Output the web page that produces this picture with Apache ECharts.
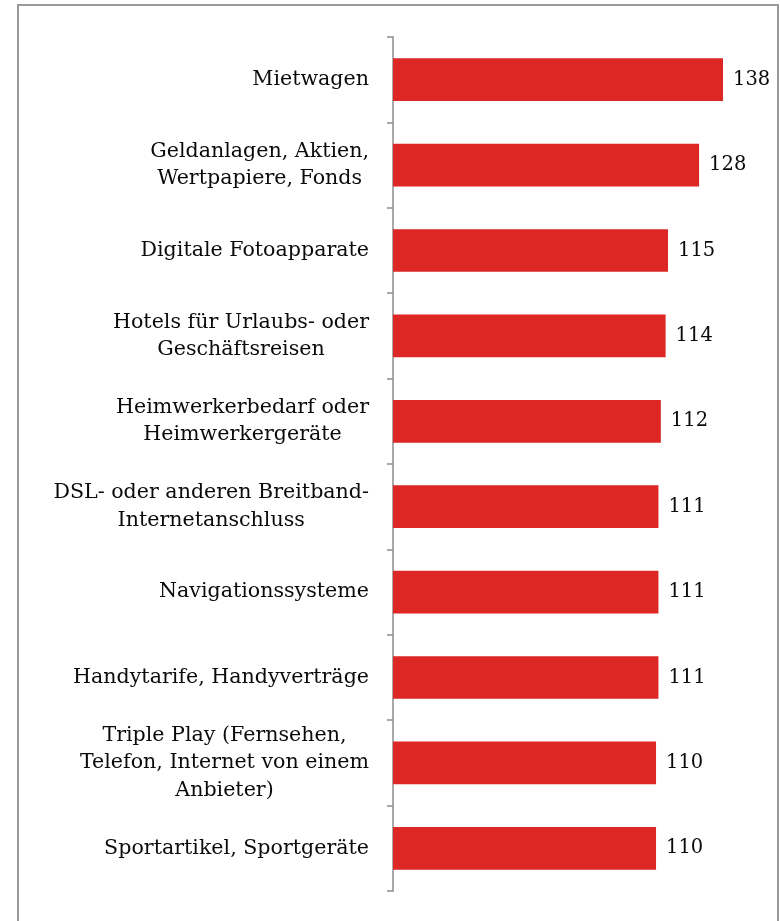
<!DOCTYPE html>
<html>
<head>
<meta charset="utf-8">
<script src="https://cdn.jsdelivr.net/npm/echarts@6/dist/echarts.min.js"></script>
<style>
html,body{margin:0;padding:0;background:#fff;overflow:hidden;}
#chart{position:absolute;left:0;top:0;width:780px;height:921px;}
#frame{position:absolute;left:17px;top:4px;width:758px;height:1000px;border:2px solid #9a9a9a;pointer-events:none;box-sizing:content-box;}
</style>
</head>
<body>
<div id="chart"></div>
<div id="frame"></div>
<script>
const categories = [
  'Mietwagen',
  'Geldanlagen, Aktien,\nWertpapiere, Fonds',
  'Digitale Fotoapparate',
  'Hotels für Urlaubs- oder\nGeschäftsreisen',
  'Heimwerkerbedarf oder\nHeimwerkergeräte',
  'DSL- oder anderen Breitband-\nInternetanschluss',
  'Navigationssysteme',
  'Handytarife, Handyverträge',
  'Triple Play (Fernsehen,\nTelefon, Internet von einem\nAnbieter)',
  'Sportartikel, Sportgeräte'
];
const values = [138, 128, 115, 114, 112, 111, 111, 111, 110, 110];

const FONT = '"DejaVu Serif", Georgia, serif';
const chart = echarts.init(document.getElementById('chart'), null, {renderer: 'canvas'});
chart.setOption({
  animation: false,
  backgroundColor: '#fff',
  grid: {left: 393, top: 37, bottom: 30, right: 28.3, containLabel: false},
  xAxis: {
    type: 'value', min: 0, max: 150, show: false
  },
  yAxis: {
    type: 'category',
    inverse: true,
    data: categories,
    axisLine: {show: true, lineStyle: {color: '#8c8c8c', width: 1.5}},
    axisTick: {show: true, length: 6, lineStyle: {color: '#8c8c8c', width: 1.5}},
    splitLine: {show: false},
    axisLabel: {
      margin: 24,
      align: 'right',
      formatter: function (v) {
        return v.split('\n').map(function (l) { return '{c|' + l + '}'; }).join('\n');
      },
      rich: {
        c: {align: 'center', fontSize: 20.6, lineHeight: 27.5, fontFamily: FONT, color: '#0a0a0a'}
      }
    }
  },
  series: [{
    type: 'bar',
    data: values,
    barWidth: '50%',
    itemStyle: {color: '#dc2725'},
    label: {
      show: true,
      position: 'right',
      distance: 10,
      fontSize: 19.5,
      fontFamily: FONT,
      color: '#0a0a0a'
    }
  }]
});
</script>
</body>
</html>
